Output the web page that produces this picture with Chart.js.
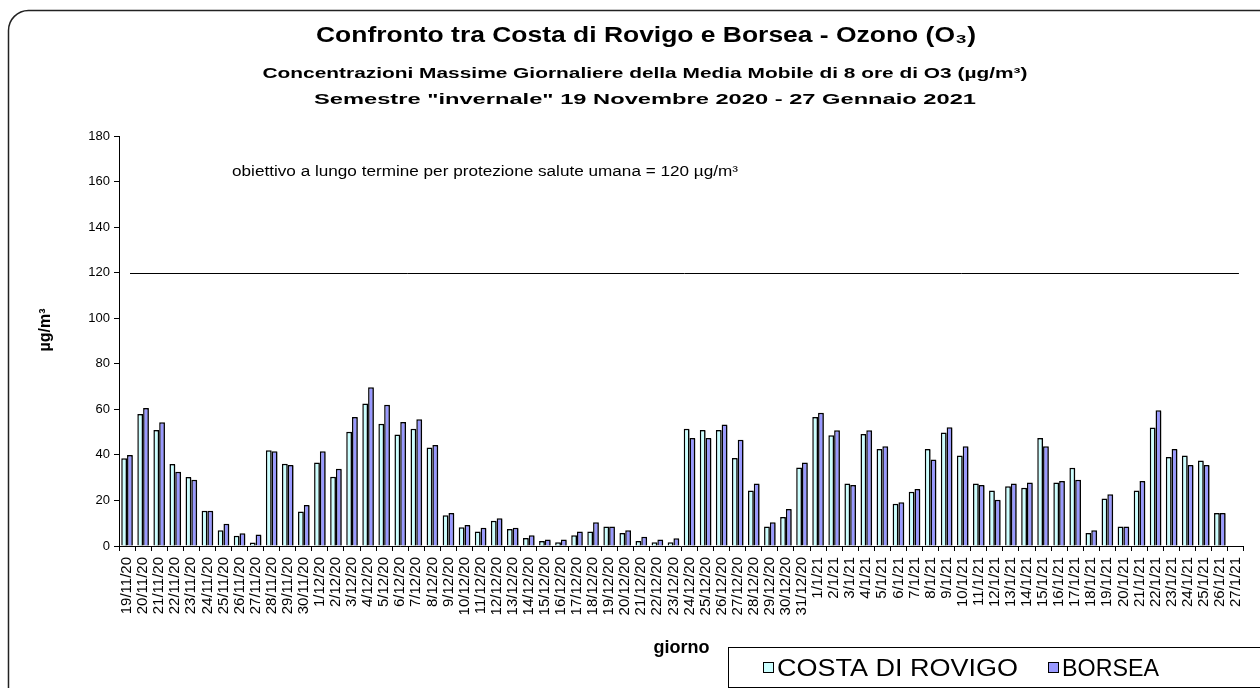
<!DOCTYPE html>
<html lang="it">
<head>
<meta charset="UTF-8">
<title>Confronto tra Costa di Rovigo e Borsea - Ozono</title>
<script src="https://cdn.jsdelivr.net/npm/chart.js"></script>
<style>
  html, body { margin: 0; padding: 0; background: #fff; }
  #wrap { width: 1260px; height: 688px; }
</style>
</head>
<body>
<div id="wrap"><canvas id="myChart" width="1260" height="688"></canvas></div>
<script>
// --- data ---
const giorni = [
  '19/11/20','20/11/20','21/11/20','22/11/20','23/11/20','24/11/20','25/11/20','26/11/20','27/11/20','28/11/20','29/11/20','30/11/20',
  '1/12/20','2/12/20','3/12/20','4/12/20','5/12/20','6/12/20','7/12/20','8/12/20','9/12/20','10/12/20',
  '11/12/20','12/12/20','13/12/20','14/12/20','15/12/20','16/12/20','17/12/20','18/12/20','19/12/20','20/12/20',
  '21/12/20','22/12/20','23/12/20','24/12/20','25/12/20','26/12/20','27/12/20','28/12/20','29/12/20','30/12/20','31/12/20',
  '1/1/21','2/1/21','3/1/21','4/1/21','5/1/21','6/1/21','7/1/21','8/1/21','9/1/21','10/1/21',
  '11/1/21','12/1/21','13/1/21','14/1/21','15/1/21','16/1/21','17/1/21','18/1/21','19/1/21','20/1/21',
  '21/1/21','22/1/21','23/1/21','24/1/21','25/1/21','26/1/21','27/1/21'
];
const costaDiRovigo = [
  38.5, 57.9, 50.9, 36.0, 30.3, 15.5, 6.9, 4.5, 1.5, 42.0, 36.1, 15.1,
  36.7, 30.4, 50.2, 62.6, 53.7, 49.0, 51.5, 43.2, 13.5, 8.2,
  6.4, 11.1, 7.5, 3.5, 2.2, 1.6, 4.7, 6.4, 8.6, 5.7,
  2.2, 1.6, 1.6, 51.5, 50.9, 50.9, 38.6, 24.4, 8.6, 12.7, 34.5,
  56.6, 48.6, 27.4, 49.2, 42.6, 18.6, 23.8, 42.6, 49.8, 39.7,
  27.4, 24.4, 26.2, 25.6, 47.4, 27.9, 34.4, 5.7, 20.9, 8.6,
  24.4, 52.0, 39.1, 39.7, 37.5, 14.5, null
];
const borsea = [
  40.0, 60.6, 54.3, 32.6, 29.1, 15.5, 9.8, 5.6, 5.0, 41.6, 35.6, 18.0,
  41.6, 33.9, 56.6, 69.7, 62.0, 54.4, 55.6, 44.3, 14.5, 9.2,
  8.0, 12.2, 8.0, 4.7, 2.9, 2.9, 6.4, 10.4, 8.6, 6.9,
  4.1, 2.9, 3.4, 47.4, 47.4, 53.3, 46.7, 27.4, 10.4, 16.2, 36.7,
  58.5, 50.8, 26.8, 50.8, 43.8, 19.2, 25.0, 38.0, 52.1, 43.8,
  26.8, 20.3, 27.4, 27.9, 43.8, 28.5, 29.1, 6.9, 22.7, 8.6,
  28.5, 59.6, 42.6, 35.6, 35.6, 14.5, null
];
const yTicks = { min: 0, max: 180, step: 20 };
const obiettivo = 120;
const titolo = 'Confronto tra Costa di Rovigo e Borsea - Ozono (O₃)';
const sottotitoli = [
  'Concentrazioni Massime Giornaliere della Media Mobile di 8 ore di O3 (µg/m³)',
  'Semestre "invernale" 19 Novembre 2020 - 27 Gennaio 2021'
];
const yTitolo = 'µg/m³';
const obiettivoText = 'obiettivo a lungo termine per protezione salute umana = 120 µg/m³';

const FONT = "'Liberation Sans', Arial, sans-serif";

// the original's text is stretched sideways, so fit it to a given width
function drawFit(ctx, text, x, y, font, width, align) {
  ctx.font = font;
  const sx = width / ctx.measureText(text).width;
  ctx.save();
  ctx.translate(x, y);
  ctx.scale(sx, 1);
  ctx.textAlign = align;
  ctx.fillText(text, 0, 0);
  ctx.restore();
}

// frame, titles, threshold line, note and legend box
const extras = {
  id: 'extras',
  beforeDraw(chart) {
    const ctx = chart.ctx;
    ctx.save();
    ctx.fillStyle = '#fff';
    ctx.fillRect(0, 0, chart.width, chart.height);
    ctx.strokeStyle = '#222';
    ctx.lineWidth = 1.5;
    ctx.beginPath();
    ctx.roundRect(8.5, 10.5, 1275, 700, 20);
    ctx.stroke();
    ctx.fillStyle = '#000';
    ctx.textBaseline = 'middle';
    drawFit(ctx, titolo, 646, 36, 'bold 22px ' + FONT, 660, 'center');
    drawFit(ctx, sottotitoli[0], 645, 74, 'bold 15px ' + FONT, 765, 'center');
    drawFit(ctx, sottotitoli[1], 645, 100, 'bold 15px ' + FONT, 662, 'center');
    // y axis title
    ctx.save();
    ctx.translate(46, 330);
    ctx.rotate(-Math.PI / 2);
    ctx.font = 'bold 16px ' + FONT;
    ctx.textAlign = 'center';
    ctx.fillText(yTitolo, 0, 0);
    ctx.restore();
    ctx.restore();
  },
  beforeDatasetsDraw(chart) {
    const ctx = chart.ctx;
    ctx.save();
    ctx.shadowColor = 'rgba(0,0,0,0.35)';
    ctx.shadowOffsetX = 2;
    ctx.shadowOffsetY = 1;
    ctx.shadowBlur = 0;
  },
  afterDatasetsDraw(chart) {
    chart.ctx.restore();
  },
  afterDraw(chart) {
    const ctx = chart.ctx;
    const area = chart.chartArea;
    const y = chart.scales.y;
    ctx.save();
    // threshold line
    const py = Math.round(y.getPixelForValue(obiettivo)) + 0.5;
    ctx.strokeStyle = '#000';
    ctx.lineWidth = 1;
    ctx.beginPath();
    ctx.moveTo(area.left + 11, py);
    ctx.lineTo(area.right - 5, py);
    ctx.stroke();
    // note
    ctx.fillStyle = '#000';
    ctx.textBaseline = 'middle';
    drawFit(ctx, obiettivoText, 232, y.getPixelForValue(164), '14px ' + FONT, 506, 'left');
    // legend
    ctx.strokeStyle = '#000';
    ctx.lineWidth = 1;
    ctx.strokeRect(728.5, 647.5, 600, 40);
    const items = chart.data.datasets;
    const xs = [763, 1048];
    const widths = [241, 97];
    items.forEach((ds, i) => {
      ctx.fillStyle = ds.backgroundColor;
      ctx.fillRect(xs[i] + 0.5, 662.5, 10, 10);
      ctx.strokeStyle = '#000';
      ctx.strokeRect(xs[i] + 0.5, 662.5, 10, 10);
      ctx.fillStyle = '#000';
      ctx.textBaseline = 'alphabetic';
      drawFit(ctx, ds.label, xs[i] + 14, 676, '23px ' + FONT, widths[i], 'left');
    });
    ctx.restore();
  }
};

new Chart(document.getElementById('myChart'), {
  type: 'bar',
  data: {
    labels: giorni,
    datasets: [
      { label: 'COSTA DI ROVIGO', data: costaDiRovigo, backgroundColor: '#CCFFFF', borderColor: '#000', borderWidth: 1.5 },
      { label: 'BORSEA', data: borsea, backgroundColor: '#9999FF', borderColor: '#000', borderWidth: 1.5 }
    ]
  },
  options: {
    responsive: false,
    animation: false,
    events: [],
    layout: { padding: { left: 20, right: 15, top: 136, bottom: 0 } },
    datasets: { bar: { categoryPercentage: 0.72, barPercentage: 1.0 } },
    plugins: {
      legend: { display: false },
      tooltip: { enabled: false }
    },
    scales: {
      x: {
        afterFit(scale) { scale.height = 142; },
        grid: { offset: true, drawOnChartArea: false, drawTicks: true, tickLength: 5, color: '#000' },
        border: { color: '#000', width: 1 },
        ticks: {
          autoSkip: false, maxRotation: 90, minRotation: 90, padding: 6,
          color: '#000', font: { family: FONT, size: 15 }
        },
        title: {
          display: true, text: 'giorno', color: '#000',
          font: { family: FONT, size: 18, weight: 'bold' },
          padding: { top: 0, bottom: 29 }
        }
      },
      y: {
        min: yTicks.min, max: yTicks.max,
        afterFit(scale) { scale.width = 99; },
        grid: { drawOnChartArea: false, drawTicks: true, tickLength: 5, color: '#000' },
        border: { color: '#000', width: 1 },
        ticks: { stepSize: yTicks.step, color: '#000', padding: 4, font: { family: FONT, size: 13 } }
      }
    }
  },
  plugins: [extras]
});
</script>
</body>
</html>
